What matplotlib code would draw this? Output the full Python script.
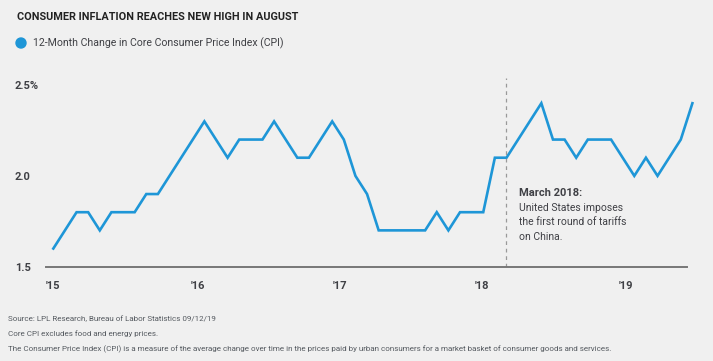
import matplotlib
matplotlib.use("Agg")
import matplotlib.pyplot as plt
import matplotlib.transforms as mtransforms

# monthly 12-month change in core CPI, Jan 2015 .. Aug 2019
core_cpi = [1.6, 1.7, 1.8, 1.8, 1.7, 1.8, 1.8, 1.8, 1.9, 1.9, 2.0, 2.1,
            2.2, 2.3, 2.2, 2.1, 2.2, 2.2, 2.2, 2.3, 2.2, 2.1, 2.1, 2.2,
            2.3, 2.2, 2.0, 1.9, 1.7, 1.7, 1.7, 1.7, 1.7, 1.8, 1.7, 1.8,
            1.8, 1.8, 2.1, 2.1, 2.2, 2.3, 2.4, 2.2, 2.2, 2.1, 2.2, 2.2,
            2.2, 2.1, 2.0, 2.1, 2.0, 2.1, 2.2, 2.4]
months = list(range(len(core_cpi)))

year_labels = ["'15", "'16", "'17", "'18", "'19"]
year_pos = [0, 12.4, 24.7, 36.9, 49.3]
y_ticks = [1.5, 2.0, 2.5]
y_labels = ["1.5", "2.0", "2.5%"]
tariff_month = 39

BG = "#f0f0f0"
BLUE = "#1e96d7"
DARK = "#3f4045"
GREY = "#555a60"

plt.rcParams["font.family"] = ["Roboto", "DejaVu Sans"]

fig = plt.figure(figsize=(7.13, 3.61), dpi=100, facecolor=BG)
ax = fig.add_axes([46/713, (361-266.7)/361, 650/713, 199.8/361])
ax.set_facecolor(BG)

ax.plot(months, core_cpi, color=BLUE, lw=1.9, solid_joinstyle="miter")
ax.plot([tariff_month, tariff_month], [1.5, 2.54], color="#999999", lw=0.9, ls=(0, (3, 3)))

ax.set_xlim(-0.63, 55.31)
ax.set_ylim(1.5, 2.6)

for s in ["top", "right", "left"]:
    ax.spines[s].set_visible(False)
ax.spines["bottom"].set_color("#777777")
ax.spines["bottom"].set_linewidth(1.4)
ax.spines["bottom"].set_bounds(-0.63, 54.5)

ax.set_xticks(year_pos)
ax.set_xticklabels(year_labels, fontsize=8, fontweight="bold", color=DARK)
ax.set_yticks(y_ticks)
ax.set_yticklabels(y_labels, fontsize=8, fontweight="bold", color=DARK)
ax.tick_params(axis="x", length=0, pad=10)
ax.tick_params(axis="y", length=0, pad=22.3)
for t in ax.get_yticklabels():
    t.set_horizontalalignment("left")

ax.text(40.1, 1.933, "March 2018:", fontsize=8, fontweight="bold", color=DARK, va="top")
ax.text(40.1, 1.851, "United States imposes\nthe first round of tariffs\non China.",
        fontsize=7.5, color=DARK, va="top", linespacing=1.55)

# title and legend
fig.text(17/713, 1 - 17/361, "CONSUMER INFLATION REACHES NEW HIGH IN AUGUST",
         fontsize=7.8, fontweight="bold", color="#222222", va="center")
fig.patches.append(matplotlib.patches.Circle((21, 361 - 43), 5,
                   transform=mtransforms.IdentityTransform(), color=BLUE))
fig.text(33/713, 1 - 43/361, "12-Month Change in Core Consumer Price Index (CPI)",
         fontsize=7.55, color=DARK, va="center")

# footnotes
fig.text(8/713, 1 - 319/361, "Source: LPL Research, Bureau of Labor Statistics 09/12/19",
         fontsize=5.75, color=GREY, va="center")
fig.text(8/713, 1 - 333.5/361, "Core CPI excludes food and energy prices.",
         fontsize=5.75, color=GREY, va="center")
fig.text(8/713, 1 - 349/361, "The Consumer Price Index (CPI) is a measure of the average change over time in the prices "
         "paid by urban consumers for a market basket of consumer goods and services.",
         fontsize=5.75, color=GREY, va="center")

fig.savefig("out.png", dpi=100, facecolor=BG)
